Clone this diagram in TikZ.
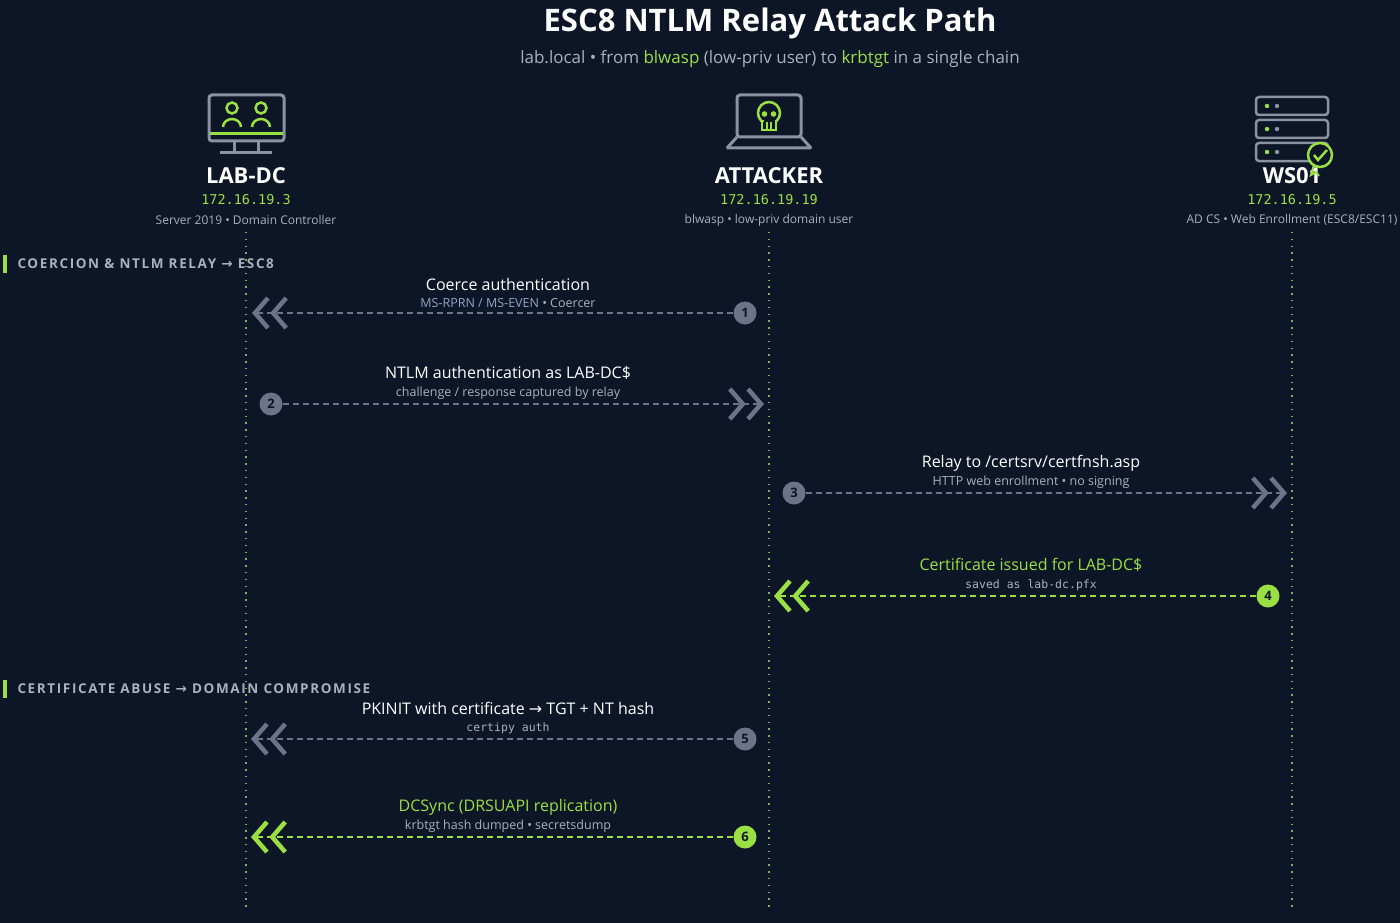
\documentclass[tikz,border=0pt]{standalone}
\usepackage{fontspec}
\setmainfont{Open Sans}
\newfontfamily\monof{DejaVu Sans Mono}
\newfontfamily\spacedf[LetterSpace=12]{Open Sans}
\newfontfamily\arrf{DejaVu Sans}
\usetikzlibrary{arrows.meta}
\definecolor{bg}{HTML}{0D1626}
\definecolor{gr}{HTML}{9BE043}
\definecolor{ln}{HTML}{6B7488}
\definecolor{sub}{HTML}{A9B1C0}
\definecolor{blu}{HTML}{8FA4C8}
\definecolor{ico}{HTML}{8A93A3}
\begin{document}
\begin{tikzpicture}[x=1pt,y=-1pt,
  title/.style={text=white,font=\fontsize{31}{34}\selectfont\bfseries},
  host/.style={text=white,font=\fontsize{22}{24}\selectfont\bfseries},
  ip/.style={text=gr,font=\monof\fontsize{13.5}{15}\selectfont},
  desc/.style={text=sub,font=\fontsize{12}{14}\selectfont},
  life/.style={gr!55!ln,line width=1.3pt,dash pattern=on 1.3pt off 5.5pt},
  sect/.style={text=sub,font=\spacedf\fontsize{13.5}{15}\selectfont\bfseries,anchor=west},
  msg/.style={text=white,font=\fontsize{16}{18}\selectfont},
  msgsub/.style={text=sub,font=\fontsize{12.5}{14}\selectfont},
  step/.style={circle,fill=#1,minimum size=23pt,inner sep=0pt,text=bg,font=\fontsize{13}{14}\selectfont\bfseries},
  msgline/.style={#1,line width=2pt,dash pattern=on 6pt off 4pt,
    -{Straight Barb[length=13pt,width=30pt,line width=4.5pt]Straight Barb[length=13pt,width=30pt,line width=4.5pt]}},
  icon/.style={ico,line width=3pt,rounded corners=3pt}]
\fill[bg] (0,0) rectangle (1400,923);
\useasboundingbox (0,0) rectangle (1400,923);
\node[title] (t) at (770,23) {ESC8 NTLM Relay Attack Path};
\node[text=sub,font=\fontsize{17}{20}\selectfont] (st) at (770,59) {lab.local • from \textcolor{gr}{blwasp} (low-priv user) to \textcolor{gr}{krbtgt} in a single chain};
% lifelines
\coordinate (l1t) at (246,232); \coordinate (l1b) at (246,910);
\coordinate (l2t) at (769,232); \coordinate (l2b) at (769,910);
\coordinate (l3t) at (1292,232); \coordinate (l3b) at (1292,910);
\draw[life] (l1t)--(l1b); \draw[life] (l2t)--(l2b); \draw[life] (l3t)--(l3b);
% LAB-DC icon
\draw[icon] (209,95) rectangle (284,141);
\draw[gr,line width=3pt] (210,134)--(283,134);
\draw[icon,rounded corners=0] (234,141)--(234,152) (258,141)--(258,152) (220,153)--(272,153);
\foreach \cx in {232,261}{
 \draw[gr,line width=2.5pt] (\cx,108) circle (5.5);
 \draw[gr,line width=2.5pt] (\cx-9,127) arc (180:360:9 and 8);}
\node[host] (n1) at (246,176) {LAB-DC};
\node[ip] (i1) at (246,200) {172.16.19.3};
\node[desc] (d1) at (246,220) {Server 2019 • Domain Controller};
% ATTACKER icon
\draw[icon] (737,95) rectangle (801,137);
\draw[icon,rounded corners=1pt] (737,137)--(727,148)--(811,148)--(801,137);
\draw[gr,line width=2.5pt] (769,113) circle (11);
\draw[gr,line width=2.5pt,fill=bg] (762,121) rectangle (776,130);
\fill[bg] (763.5,119) rectangle (774.5,122);
\draw[gr,line width=1.5pt] (767,122)--(767,130) (771,122)--(771,130);
\fill[gr] (764.5,114) circle (2.8) (773.5,114) circle (2.8);
\node[host] (n2) at (769,176) {ATTACKER};
\node[ip] (i2) at (769,200) {172.16.19.19};
\node[desc] (d2) at (769,220) {blwasp • low-priv domain user};
% WS01 icon
\foreach \yy in {97,120,143}{
 \draw[icon,line width=2.5pt] (1256,\yy) rectangle (1328,\yy+18);
 \fill[gr] (1267,\yy+9) circle (2.2); \fill[ico] (1277,\yy+9) circle (2.2);}
\node[host] (n3) at (1292,176) {WS01};
\draw[gr,line width=2pt] (1314,165)--(1311,175)--(1316,172)--(1319,176);
\draw[gr,line width=2.5pt,fill=bg] (1320,155) circle (12);
\draw[gr,line width=2.5pt] (1314,155)--(1318,160)--(1327,150);
\node[ip] (i3) at (1292,200) {172.16.19.5};
\node[desc] (d3) at (1292,220) {AD CS • Web Enrollment (ESC8/ESC11)};
% sections
\fill[gr] (3,255) rectangle (7,273);
\node[sect] (s1) at (14,264) {COERCION \& NTLM RELAY {\arrf→} ESC8};
\fill[gr] (3,680) rectangle (7,698);
\node[sect] (s2) at (14,689) {CERTIFICATE ABUSE {\arrf→} DOMAIN COMPROMISE};
% messages
\node[step=ln] (c1) at (745,313) {1};
\coordinate (e1) at (252,313);
\draw[msgline=ln] (c1)--(e1);
\node[msg] at (508,284) {Coerce authentication};
\node[text=blu,font=\fontsize{12.5}{14}\selectfont] at (508,303) {MS-RPRN / MS-EVEN \textcolor{sub}{• Coercer}};

\node[step=ln] (c2) at (271,404) {2};
\coordinate (e2) at (764,404);
\draw[msgline=ln] (c2)--(e2);
\node[msg] at (508,373) {NTLM authentication as LAB-DC\$};
\node[msgsub] at (508,393) {challenge / response captured by relay};

\node[step=ln] (c3) at (794,493) {3};
\coordinate (e3) at (1287,493);
\draw[msgline=ln] (c3)--(e3);
\node[msg] at (1031,463) {Relay to /certsrv/certfnsh.asp};
\node[msgsub] at (1031,482) {HTTP web enrollment • no signing};

\node[step=gr] (c4) at (1268,596) {4};
\coordinate (e4) at (774,596);
\draw[msgline=gr] (c4)--(e4);
\node[msg,text=gr] at (1031,565) {Certificate issued for LAB-DC\$};
\node[msgsub,font=\monof\fontsize{11.5}{14}\selectfont] at (1031,585) {saved as lab-dc.pfx};

\node[step=ln] (c5) at (745,739) {5};
\coordinate (e5) at (251,739);
\draw[msgline=ln] (c5)--(e5);
\node[msg] at (508,708) {PKINIT with certificate {\arrf→} TGT + NT hash};
\node[msgsub,font=\monof\fontsize{11.5}{14}\selectfont] at (508,728) {certipy auth};

\node[step=gr] (c6) at (745,837) {6};
\coordinate (e6) at (251,837);
\draw[msgline=gr] (c6)--(e6);
\node[msg,text=gr] at (508,807) {DCSync (DRSUAPI replication)};
\node[msgsub] at (508,826) {krbtgt hash dumped • secretsdump};
\end{tikzpicture}
\end{document}
